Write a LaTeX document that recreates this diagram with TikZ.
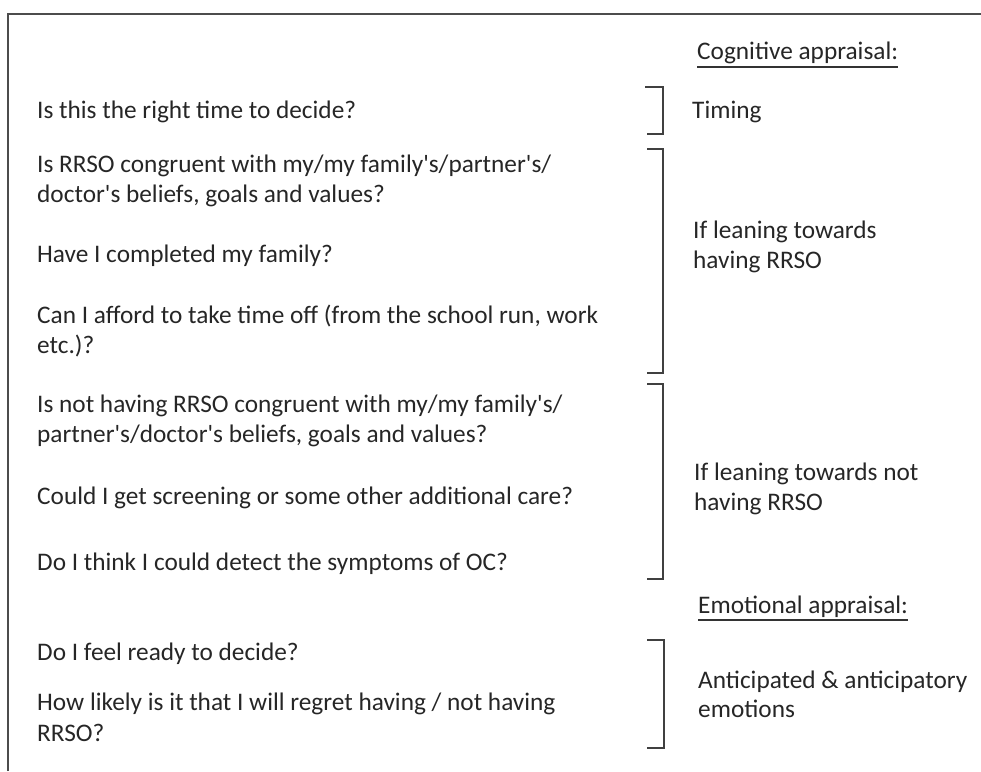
\documentclass[tikz,border=0pt]{standalone}
\usepackage{fontspec}
\setmainfont{Carlito}
\usetikzlibrary{positioning}
\newcommand{\ap}{\textquotesingle}

\begin{document}
\begin{tikzpicture}[x=1pt,y=-1pt,
                    question node/.style={anchor=base west,inner sep=0pt,text=black!85,
                                          font=\fontsize{25.3}{30}\selectfont},
                    label node/.style={question node},
                    bracket/.style={draw=black!75,line width=2pt},
                    under line/.style={draw=black!80,line width=1.4pt}
                   ]
  \useasboundingbox (0,0) rectangle (981,771);
  \draw[black!70,line width=2pt] (8,771) -- (8,14) -- (981,14);
  % questions
  \node[question node] (q1)  at (37,118) {Is this the right time to decide?};
  \node[question node] (q2a) at (37,172) {Is RRSO congruent with my/my family\ap s/partner\ap s/};
  \node[question node] (q2b) at (37,202) {doctor\ap s beliefs, goals and values?};
  \node[question node] (q3)  at (37,262) {Have I completed my family?};
  \node[question node] (q4a) at (37,323) {Can I afford to take time off (from the school run, work};
  \node[question node] (q4b) at (37,353) {etc.)?};
  \node[question node] (q5a) at (37,412) {Is not having RRSO congruent with my/my family\ap s/};
  \node[question node] (q5b) at (37,442) {partner\ap s/doctor\ap s beliefs, goals and values?};
  \node[question node] (q6)  at (37,504) {Could I get screening or some other additional care?};
  \node[question node] (q7)  at (37,570) {Do I think I could detect the symptoms of OC?};
  \node[question node] (q8)  at (37,660) {Do I feel ready to decide?};
  \node[question node] (q9a) at (37,710) {How likely is it that I will regret having / not having};
  \node[question node] (q9b) at (37,741) {RRSO?};
  % appraisals
  \node[label node] (cog)    at (697,59)  {Cognitive appraisal:};
  \node[label node] (timing) at (692,118) {Timing};
  \node[label node] (yesa)   at (693,238) {If leaning towards};
  \node[label node] (yesb)   at (693,268) {having RRSO};
  \node[label node] (noa)    at (694,480) {If leaning towards not};
  \node[label node] (nob)    at (694,510) {having RRSO};
  \node[label node] (emo)    at (698,613) {Emotional appraisal:};
  \node[label node] (anta)   at (698,688) {Anticipated \& anticipatory};
  \node[label node] (antb)   at (698,717) {emotions};
  \draw[under line] ([yshift=-8pt]cog.base west) -- ([yshift=-8pt]cog.base east);
  \draw[under line] ([yshift=-7pt]emo.base west) -- ([yshift=-7pt]emo.base east);
  % brackets
  \draw[bracket] (645,87)  -| (663,134) -- (647,134);
  \draw[bracket] (647,149) -| (663,373) -- (647,373);
  \draw[bracket] (647,384) -| (663,579) -- (647,579);
  \draw[bracket] (647,640) -| (664,748) -- (647,748);
\end{tikzpicture}
\end{document}
